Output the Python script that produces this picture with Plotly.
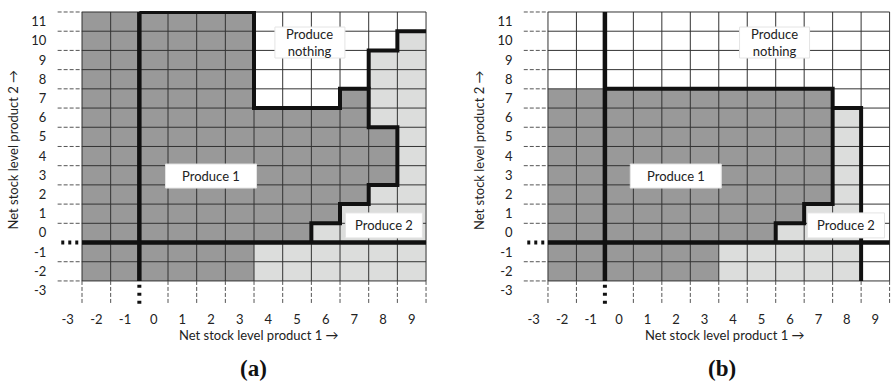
import plotly.graph_objects as go

# ---------------- data ----------------
cols = list(range(-2, 10))          # net stock level product 1 (grid cells)
rows = list(range(-2, 12))          # net stock level product 2 (grid cells)
x_ticks = list(range(-3, 10))
y_ticks = list(range(-3, 12))

# decision per cell, rows listed from top (11) down to bottom (-2)
# D = produce 1, L = produce 2, W = produce nothing
policy_a = [
    "DDDDDDWWWWWW",  # 11
    "DDDDDDWWWWWL",  # 10
    "DDDDDDWWWWLL",  # 9
    "DDDDDDWWWWLL",  # 8
    "DDDDDDWWWDLL",  # 7
    "DDDDDDDDDDLL",  # 6
    "DDDDDDDDDDDL",  # 5
    "DDDDDDDDDDDL",  # 4
    "DDDDDDDDDDDL",  # 3
    "DDDDDDDDDDLL",  # 2
    "DDDDDDDDDLLL",  # 1
    "DDDDDDDDLLLL",  # 0
    "DDDDDDLLLLLL",  # -1
    "DDDDDDLLLLLL",  # -2
]
policy_b = [
    "WWWWWWWWWWWW",  # 11
    "WWWWWWWWWWWW",  # 10
    "WWWWWWWWWWWW",  # 9
    "WWWWWWWWWWWW",  # 8
    "DDDDDDDDDDWW",  # 7
    "DDDDDDDDDDLW",  # 6
    "DDDDDDDDDDLW",  # 5
    "DDDDDDDDDDLW",  # 4
    "DDDDDDDDDDLW",  # 3
    "DDDDDDDDDDLW",  # 2
    "DDDDDDDDDLLW",  # 1
    "DDDDDDDDLLLW",  # 0
    "DDDDDDLLLLLW",  # -1
    "DDDDDDLLLLLW",  # -2
]

# policy boundaries (thick lines), in stock-level units
a_p1_x = [-0.5, 3.5, 3.5, 6.5, 6.5, 7.5, 7.5, 8.5, 8.5, 7.5, 7.5, 6.5, 6.5, 5.5, 5.5]
a_p1_y = [11.5, 11.5, 6.5, 6.5, 7.5, 7.5, 5.5, 5.5, 2.5, 2.5, 1.5, 1.5, 0.5, 0.5, -0.5]
a_p2_x = [7.5, 7.5, 8.5, 8.5, 9.5]
a_p2_y = [7.5, 9.5, 9.5, 10.5, 10.5]
b_p1_x = [-0.5, 7.5, 7.5, 6.5, 6.5, 5.5, 5.5]
b_p1_y = [7.5, 7.5, 1.5, 1.5, 0.5, 0.5, -0.5]
b_p2_x = [7.5, 8.5, 8.5]
b_p2_y = [6.5, 6.5, -2.5]

region_labels = ["Produce 1", "Produce<br>nothing", "Produce 2"]
label_x_a = [2.0, 5.45, 8.03]
label_y_a = [2.96, 9.91, 0.39]
label_x_b = [1.99, 5.46, 7.97]
label_y_b = [2.96, 9.91, 0.39]

# ---------------- styling ----------------
W, H = 891, 381
DARK = "#999999"
LIGHT = "#dcdddc"
GRIDC = "#333333"
THICK = "#111111"
FONT = "Lato"
TXT = "#222222"
code = {"W": 0, "L": 1, "D": 2}
cscale = [[0, "#ffffff"], [0.33, "#ffffff"], [0.33, LIGHT], [0.66, LIGHT], [0.66, DARK], [1, DARK]]
box_w = {"Produce 1": 91, "Produce<br>nothing": 70, "Produce 2": 77}
box_h = {"Produce 1": 24, "Produce<br>nothing": 31, "Produce 2": 25}

X0, X1 = -3.5, 9.55
Y0, Y1 = -3.75, 11.55
GX0, GX1 = cols[0] - 0.5, cols[-1] + 0.5
GY0, GY1 = rows[0] - 0.5, rows[-1] + 0.5

fig = go.Figure()


def add_panel(policy, p1x, p1y, p2x, p2y, lxs, lys, xa, ya):
    z = [[code[c] for c in line] for line in reversed(policy)]
    fig.add_trace(go.Heatmap(x=cols, y=rows, z=z, colorscale=cscale, zmin=0, zmax=2,
                             showscale=False, hoverinfo="skip", xaxis=xa, yaxis=ya))
    # thin grid
    gx, gy = [], []
    for c in range(len(cols) + 1):
        v = GX0 + c
        gx += [v, v, None]
        gy += [GY0, GY1, None]
    for r in range(len(rows) + 1):
        v = GY0 + r
        gx += [GX0, GX1, None]
        gy += [v, v, None]
    fig.add_trace(go.Scatter(x=gx, y=gy, mode="lines", line=dict(color=GRIDC, width=1),
                             hoverinfo="skip", xaxis=xa, yaxis=ya))
    # dashed extensions of grid lines outside the grid
    dx, dy = [], []
    for r in range(len(rows) + 1):
        v = GY0 + r
        if v == -0.5:
            continue
        dx += [-3.35, GX0, None]
        dy += [v, v, None]
    for c in range(len(cols) + 1):
        v = GX0 + c
        if v == -0.5:
            continue
        dx += [v, v, None]
        dy += [GY0, -3.65, None]
    fig.add_trace(go.Scatter(x=dx, y=dy, mode="lines",
                             line=dict(color="#555555", width=1, dash="4px,2px"),
                             hoverinfo="skip", xaxis=xa, yaxis=ya))
    # zero lines (thick) and dotted extensions
    fig.add_trace(go.Scatter(x=[-0.5, -0.5, None, GX0, GX1], y=[GY0, GY1, None, -0.5, -0.5],
                             mode="lines", line=dict(color=THICK, width=4.5),
                             hoverinfo="skip", xaxis=xa, yaxis=ya))
    fig.add_trace(go.Scatter(x=[-2.63, -3.27], y=[-0.5, -0.5], mode="lines",
                             line=dict(color=THICK, width=4, dash="3px,4px"),
                             hoverinfo="skip", xaxis=xa, yaxis=ya))
    fig.add_trace(go.Scatter(x=[-0.5, -0.5], y=[-2.7, -3.72], mode="lines",
                             line=dict(color=THICK, width=4, dash="3px,5px"),
                             hoverinfo="skip", xaxis=xa, yaxis=ya))
    # policy boundaries
    for bx, by in ((p1x, p1y), (p2x, p2y)):
        fig.add_trace(go.Scatter(x=bx, y=by, mode="lines",
                                 line=dict(color=THICK, width=4),
                                 hoverinfo="skip", xaxis=xa, yaxis=ya))
    # region labels in white boxes
    for txt, lx, ly in zip(region_labels, lxs, lys):
        bw, bh = box_w[txt], box_h[txt]
        fig.add_shape(type="rect", xref=xa, yref=ya, xsizemode="pixel", ysizemode="pixel",
                      xanchor=lx, yanchor=ly, x0=-bw / 2, x1=bw / 2, y0=-bh / 2, y1=bh / 2,
                      fillcolor="white", line=dict(color="#e4e4e4", width=1), layer="above")
        fig.add_annotation(x=lx, y=ly, xref=xa, yref=ya, text=txt, showarrow=False,
                           xanchor="center", yanchor="middle",
                           font=dict(family=FONT, size=13, color=TXT))


add_panel(policy_a, a_p1_x, a_p1_y, a_p2_x, a_p2_y, label_x_a, label_y_a, "x", "y")
add_panel(policy_b, b_p1_x, b_p1_y, b_p2_x, b_p2_y, label_x_b, label_y_b, "x2", "y2")


def xdom(px_left_grid, unit):
    return [(px_left_grid + (X0 - GX0) * unit) / W, min(1.0, (px_left_grid + (X1 - GX0) * unit) / W)]


unit_y = 19.21
top_px = 12 - (Y1 - GY1) * unit_y
bot_px = 12 + (GY1 - Y0) * unit_y
ydom = [(H - bot_px) / H, (H - top_px) / H]

tickfont = dict(family=FONT, size=13, color=TXT)
xcommon = dict(range=[X0, X1], showgrid=False, zeroline=False, showline=False,
               tickmode="array", tickvals=x_ticks, ticktext=[str(v) for v in x_ticks],
               ticks="", tickfont=tickfont, ticklabelstandoff=5, fixedrange=True)
ycommon = dict(range=[Y0, Y1], domain=ydom, showgrid=False, zeroline=False, showline=False,
               tickmode="array", tickvals=y_ticks, ticktext=[str(v) for v in y_ticks],
               ticks="", tickfont=tickfont, ticklabelstandoff=6, fixedrange=True)

fig.update_layout(
    width=W, height=H, margin=dict(l=0, r=0, t=0, b=0),
    paper_bgcolor="white", plot_bgcolor="white", showlegend=False,
    xaxis=dict(domain=xdom(82, 28.67), anchor="y", **xcommon),
    yaxis=dict(anchor="x", **ycommon),
    xaxis2=dict(domain=xdom(548, 28.5), anchor="y2", **xcommon),
    yaxis2=dict(anchor="x2", **ycommon),
)

# axis titles and panel captions
for cx in (259, 725):
    fig.add_annotation(x=cx / W, y=1 - 335 / H, xref="paper", yref="paper",
                       text="Net stock level product 1 \u2192", xanchor="center", yanchor="middle",
                       showarrow=False, font=dict(family=FONT, size=13, color=TXT))
for cx in (12.5, 479):
    fig.add_annotation(x=cx / W, y=1 - 150 / H, xref="paper", yref="paper",
                       text="Net stock level product 2 \u2192", textangle=-90,
                       xanchor="center", yanchor="middle",
                       showarrow=False, font=dict(family=FONT, size=13, color=TXT))
for cx, txt in ((253, "<b>(a)</b>"), (722, "<b>(b)</b>")):
    fig.add_annotation(x=cx / W, y=1 - 368 / H, xref="paper", yref="paper", text=txt,
                       xanchor="center", yanchor="middle",
                       showarrow=False, font=dict(family="Liberation Serif", size=23, color="#111111"))

fig.write_html("out.html", config={"displayModeBar": False},
               post_script="document.body.style.margin='0';document.body.style.padding='0';")
